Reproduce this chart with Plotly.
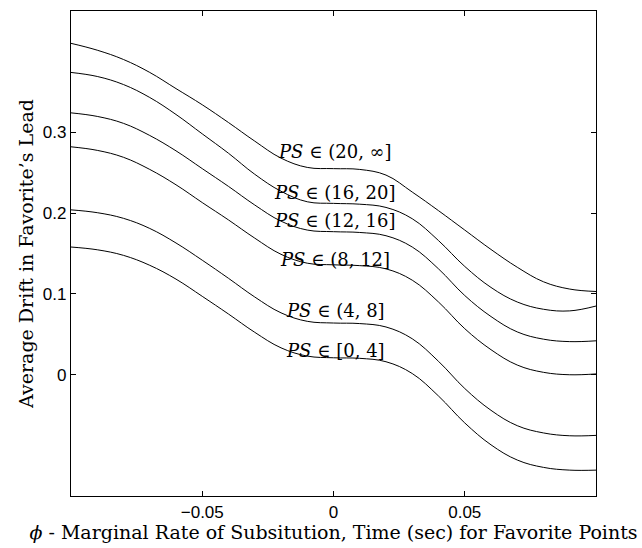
import plotly.graph_objects as go

# x positions (sec)
x_vals = [-0.10, -0.09, -0.08, -0.07, -0.06, -0.05, -0.04, -0.03, -0.02, -0.01,
          0.00, 0.01, 0.02, 0.03, 0.04, 0.05, 0.06, 0.07, 0.08, 0.09, 0.10]

series_names = ["<i>PS</i> ∈ (20, ∞]", "<i>PS</i> ∈ (16, 20]", "<i>PS</i> ∈ (12, 16]",
                "<i>PS</i> ∈ (8, 12]", "<i>PS</i> ∈ (4, 8]", "<i>PS</i> ∈ [0, 4]"]

ps_20_inf = [0.410, 0.4015, 0.390, 0.374, 0.354, 0.334, 0.312, 0.289, 0.268, 0.2565,
             0.255, 0.254, 0.247, 0.226, 0.203, 0.179, 0.155, 0.133, 0.115, 0.106, 0.103]
ps_16_20 = [0.374, 0.369, 0.359, 0.343, 0.322, 0.298, 0.274, 0.248, 0.227, 0.214,
            0.212, 0.211, 0.207, 0.193, 0.166, 0.134, 0.108, 0.090, 0.081, 0.079, 0.085]
ps_12_16 = [0.324, 0.3196, 0.311, 0.296, 0.277, 0.255, 0.233, 0.210, 0.190, 0.179,
            0.177, 0.176, 0.172, 0.158, 0.131, 0.098, 0.072, 0.053, 0.044, 0.041, 0.042]
ps_8_12 = [0.282, 0.2776, 0.269, 0.254, 0.235, 0.213, 0.1915, 0.169, 0.149, 0.138,
           0.136, 0.135, 0.131, 0.117, 0.090, 0.057, 0.031, 0.012, 0.003, 0.000, 0.001]
ps_4_8 = [0.204, 0.2005, 0.1935, 0.181, 0.163, 0.1417, 0.1193, 0.0962, 0.0766, 0.0661,
          0.064, 0.0633, 0.0591, 0.0445, 0.0166, -0.017, -0.044, -0.063, -0.072, -0.0755, -0.075]
ps_0_4 = [0.158, 0.1546, 0.1477, 0.1354, 0.1183, 0.097, 0.0751, 0.0525, 0.0333, 0.0231,
          0.021, 0.0203, 0.0161, 0.0015, -0.0263, -0.0596, -0.0867, -0.1055, -0.1146, -0.118, -0.118]

all_series = [ps_20_inf, ps_16_20, ps_12_16, ps_8_12, ps_4_8, ps_0_4]

# label anchor positions (data coords)
label_x = [0.0006, 0.0006, 0.0006, 0.0006, 0.0006, 0.0006]
label_y = [0.2765, 0.226, 0.191, 0.143, 0.080, 0.030]

x_tickvals = [-0.05, 0, 0.05]
x_ticktext = ["\u22120.05", "0", "0.05"]
y_tickvals = [0, 0.1, 0.2, 0.3]
y_ticktext = ["0", "0.1", "0.2", "0.3"]

serif = "DejaVu Serif"
sans = "Liberation Sans"

fig = go.Figure()
for name, ys in zip(series_names, all_series):
    fig.add_trace(go.Scatter(x=x_vals, y=ys, mode="lines", name=name,
                             line=dict(color="black", width=1, shape="spline", smoothing=1.1),
                             showlegend=False, hoverinfo="skip"))

for name, lx, ly in zip(series_names, label_x, label_y):
    fig.add_annotation(x=lx, y=ly, text=name, showarrow=False,
                       font=dict(family=serif, size=18, color="black"),
                       xanchor="center", yanchor="middle")

fig.update_layout(
    width=642, height=548,
    margin=dict(l=71, r=46, t=11, b=52),
    paper_bgcolor="white", plot_bgcolor="white",
    xaxis=dict(range=[-0.1, 0.1], tickvals=x_tickvals, ticktext=x_ticktext,
               ticks="inside", ticklen=5, tickwidth=1, tickcolor="black",
               showline=True, linecolor="black", linewidth=1.2, mirror="ticks",
               showgrid=False, zeroline=False,
               tickfont=dict(family=sans, size=17, color="black"),
               title=dict(text="<i>ϕ</i> - Marginal Rate of Subsitution, Time (sec) for Favorite Points",
                          font=dict(family=serif, size=19, color="black"), standoff=1)),
    yaxis=dict(range=[-0.15, 0.45], tickvals=y_tickvals, ticktext=y_ticktext,
               ticks="inside", ticklen=5, tickwidth=1, tickcolor="black",
               showline=True, linecolor="black", linewidth=1.2, mirror="ticks",
               showgrid=False, zeroline=False,
               tickfont=dict(family=sans, size=17, color="black"),
               title=dict(text="Average Drift in Favorite\u2019s Lead",
                          font=dict(family=serif, size=19, color="black"), standoff=4)),
)

fig.write_html("out.html", config={"displayModeBar": False},
               post_script="document.body.style.margin='0px';")
